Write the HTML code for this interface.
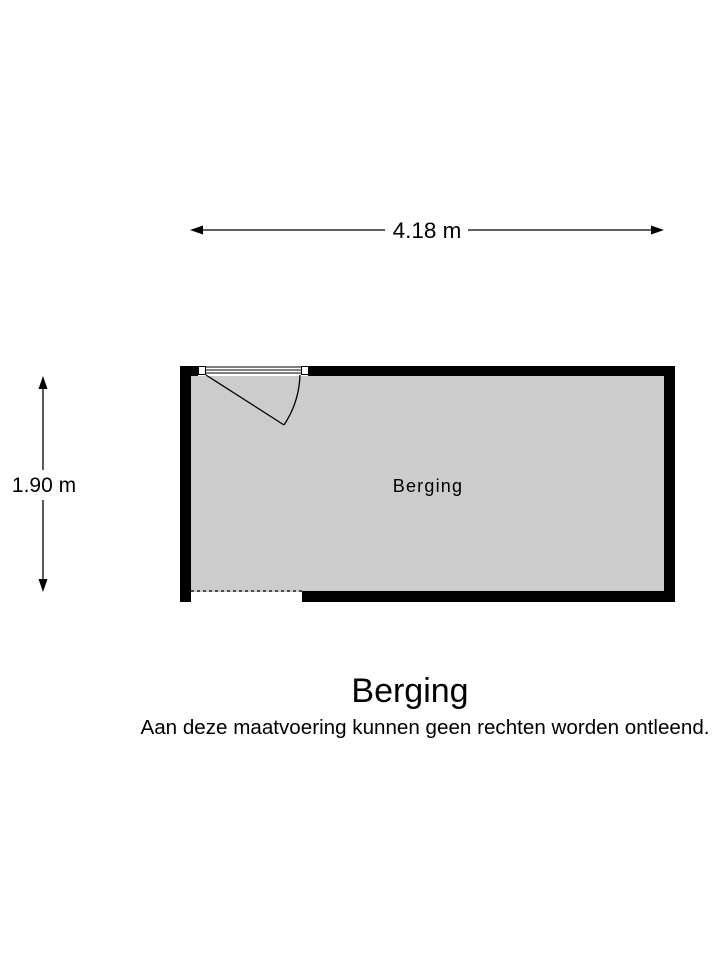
<!DOCTYPE html>
<html><head><style>body{margin:0;background:#fff}</style></head><body>
<svg width="720" height="960" xmlns="http://www.w3.org/2000/svg" font-family="Liberation Sans, sans-serif">
<rect x="180" y="366" width="495" height="236" fill="#000"/>
<rect x="191" y="376" width="473" height="215" fill="#cccccc"/>
<rect x="191" y="591" width="111" height="12" fill="#fff"/>
<rect x="191" y="590" width="111" height="2" fill="#cccccc"/>
<line x1="191" y1="591" x2="302" y2="591" stroke="#000" stroke-width="1.3" stroke-dasharray="3,3"/>
<rect x="198" y="365" width="110" height="11" fill="#fff"/>
<rect x="198.5" y="366.5" width="7" height="8" fill="#fff" stroke="#000"/>
<rect x="301.5" y="366.5" width="7" height="8" fill="#fff" stroke="#000"/>
<line x1="206" y1="367" x2="302" y2="367" stroke="#000"/>
<line x1="206" y1="370" x2="302" y2="370" stroke="#000"/>
<line x1="206" y1="373" x2="302" y2="373" stroke="#000"/>
<line x1="206" y1="375" x2="284" y2="425" stroke="#000" stroke-width="1.3"/>
<path d="M284 425 A96 96 0 0 0 300 375" fill="none" stroke="#000" stroke-width="1.3"/>
<text x="428" y="492" font-size="18" letter-spacing="1.2" text-anchor="middle">Berging</text>
<line x1="196" y1="230" x2="385" y2="230" stroke="#000" stroke-width="1.3"/>
<line x1="468" y1="230" x2="658" y2="230" stroke="#000" stroke-width="1.3"/>
<polygon points="190,230 203,225.5 203,234.5" fill="#000"/>
<polygon points="664,230 651,225.5 651,234.5" fill="#000"/>
<text x="427" y="238" font-size="22.5" text-anchor="middle">4.18 m</text>
<line x1="43" y1="382" x2="43" y2="470" stroke="#000" stroke-width="1.3"/>
<line x1="43" y1="500" x2="43" y2="586" stroke="#000" stroke-width="1.3"/>
<polygon points="43,376 38.5,389 47.5,389" fill="#000"/>
<polygon points="43,592 38.5,579 47.5,579" fill="#000"/>
<text x="44" y="492" font-size="21" text-anchor="middle">1.90 m</text>
<text x="410" y="702" font-size="34" text-anchor="middle">Berging</text>
<text x="425" y="734" font-size="20.6" text-anchor="middle">Aan deze maatvoering kunnen geen rechten worden ontleend.</text>
</svg>
</body></html>
